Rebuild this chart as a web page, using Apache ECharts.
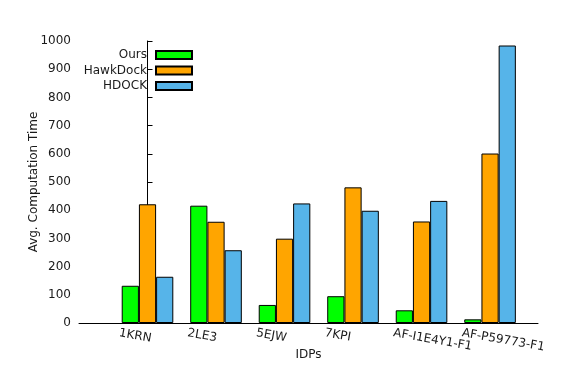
<!DOCTYPE html>
<html>
<head>
<meta charset="utf-8">
<script src="https://cdn.jsdelivr.net/npm/echarts@6/dist/echarts.min.js"></script>
<style>
  html, body { margin: 0; padding: 0; background: #fff; }
  #chart { width: 578px; height: 376px; }
</style>
</head>
<body>
<div id="chart"></div>
<script>
// IDPs and avg. computation time per method
const categories = ['1KRN', '2LE3', '5EJW', '7KPI', 'AF-I1E4Y1-F1', 'AF-P59773-F1']
const ours = [132, 416, 64, 95, 45, 13]
const hawkDock = [421, 359, 299, 481, 360, 601]
const hdock = [164, 258, 424, 398, 433, 984]
const yTicks = { min: 0, max: 1000, step: 100 }

const font = 'DejaVu Sans'
const textColor = '#1a1a1a'

const chart = echarts.init(document.getElementById('chart'))

function barSeries(name, values, color) {
	return {
		name: name,
		type: 'bar',
		xAxisIndex: 0,
		yAxisIndex: 0,
		barWidth: 17.2,
		barGap: '0%',
		itemStyle: {
			color: color,
			borderColor: '#000',
			borderWidth: 1
		},
		data: values.map((v, i) => [i, v])
	}
}

function legendRow(name, top) {
	return {
		data: [{ name: name, icon: 'rect' }],
		orient: 'vertical',
		align: 'right',
		right: 385,
		top: top,
		padding: 0,
		itemWidth: 36,
		itemHeight: 8,
		selectedMode: false,
		textStyle: {
			fontFamily: font,
			fontSize: 12,
			color: textColor,
			padding: [0, 4, 0, 0]
		}
	}
}

chart.setOption({
	animation: false,
	backgroundColor: '#fff',
	grid: [
		{ left: 79, right: 40, top: 41, bottom: 53 },
		// second grid only carries the shifted category labels
		{ left: 84.7, right: 81.7, top: 41, bottom: 53 }
	],
	legend: [
		legendRow('Ours', 49),
		legendRow('HawkDock', 64.5),
		legendRow('HDOCK', 80)
	],
	xAxis: [{
		type: 'value',
		gridIndex: 0,
		min: -1,
		max: 5.7,
		name: 'IDPs',
		nameLocation: 'middle',
		nameGap: 26,
		nameTextStyle: { fontFamily: font, fontSize: 12, color: textColor },
		axisLine: { show: true, lineStyle: { color: '#000', width: 1 } },
		axisTick: { show: false },
		axisLabel: { show: false },
		splitLine: { show: false }
	}, {
		type: 'category',
		gridIndex: 1,
		data: categories,
		boundaryGap: true,
		axisLine: { show: false },
		axisTick: { show: false },
		axisLabel: {
			interval: 0,
			rotate: -10,
			align: 'left',
			verticalAlign: 'middle',
			margin: 10,
			fontFamily: font,
			fontSize: 12,
			color: textColor
		},
		splitLine: { show: false }
	}],
	yAxis: [{
		type: 'value',
		gridIndex: 0,
		min: yTicks.min,
		max: yTicks.max,
		interval: yTicks.step,
		name: 'Avg. Computation Time',
		nameLocation: 'middle',
		nameGap: 39,
		nameMoveOverlap: false,
		nameTextStyle: { fontFamily: font, fontSize: 12, color: textColor },
		axisLine: { show: true, lineStyle: { color: '#000', width: 1 } },
		axisTick: { show: true, inside: true, length: 5, lineStyle: { color: '#000' } },
		axisLabel: {
			margin: 8,
			fontFamily: font,
			fontSize: 12,
			color: textColor,
			formatter: v => String(v)
		},
		splitLine: { show: false }
	}, {
		type: 'value',
		gridIndex: 1,
		min: 0,
		max: 1,
		show: false
	}],
	series: [
		barSeries('Ours', ours, '#00ff00'),
		barSeries('HawkDock', hawkDock, '#ffa500'),
		barSeries('HDOCK', hdock, '#56b4e9')
	]
})
</script>
</body>
</html>
